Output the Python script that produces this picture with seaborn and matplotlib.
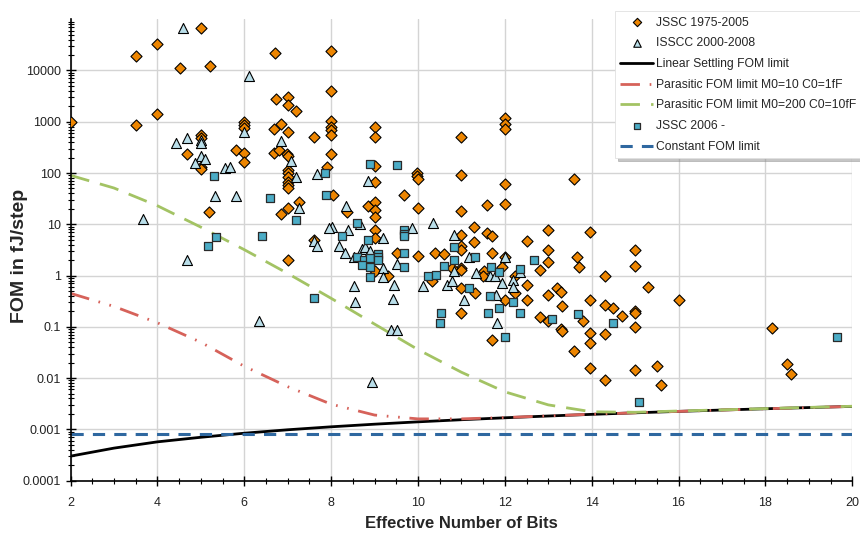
import numpy as np
import pandas as pd
import matplotlib.pyplot as plt
import matplotlib.ticker as mticker
import seaborn as sns

sns.set_theme(style="white")
plt.rcParams['font.family'] = ['Liberation Sans', 'DejaVu Sans']

# JSSC 1975-2005 (diamonds)
jssc_old_enob = [5.0, 4.0, 3.51, 4.52, 5.21, 6.7, 8.0, 8.0, 6.74, 7.0, 7.0, 7.19, 2.0, 3.51, 4.0,
                 6.0, 6.0, 6.0, 6.85, 6.69, 7.0, 7.61, 8.0, 8.0, 8.0, 8.0, 5.0, 5.0, 5.81, 6.0,
                 4.69, 5.0, 5.0, 6.0, 6.69, 6.8, 6.98, 7.0, 7.0, 7.0, 7.0, 7.0, 7.0, 7.0,
                 7.9, 8.0, 9.0, 9.0, 9.02, 9.98, 9.98, 10.0, 11.0, 11.0, 12.0, 12.0, 12.0, 13.6,
                 9.02, 12.0, 8.04, 9.67, 8.36, 8.86, 9.02, 9.02, 9.02, 10.0, 11.6, 12.0, 11.0,
                 11.3, 13.0, 13.97, 9.02, 9.02, 11.0, 11.6, 11.7, 11.3, 12.5, 13.0, 9.52, 9.02,
                 9.32, 10.0, 10.4, 10.6, 11.0, 11.0, 11.0, 11.0, 10.78, 10.32, 11.0, 11.32, 11.0,
                 11.51, 12.01, 11.7, 11.94, 12.23, 12.23, 12.01, 12.51, 12.51, 12.8, 13.0, 13.0,
                 13.2, 13.3, 13.32, 12.8, 13.0, 13.66, 13.7, 13.95, 13.8, 13.3, 11.5, 5.2, 6.85,
                 7.0, 7.26, 7.0, 7.6, 13.32, 13.97, 13.97, 13.97, 11.7, 13.6, 14.5, 14.7, 15.0,
                 15.0, 14.3, 14.3, 15.0, 15.5, 15.6, 18.16, 18.5, 18.6, 15.0, 15.0, 14.3, 15.3,
                 14.3, 15.0, 16.0]
jssc_old_fom = [66000, 33000, 19000, 11000, 12000, 22000, 24000, 3900, 2800, 3100, 2100, 1600, 1000, 870, 1430,
                1000, 870, 770, 910, 720, 640, 510, 1050, 800, 700, 540, 550, 480, 280, 250,
                235, 134, 120, 167, 245, 275, 235, 210, 115, 100, 85, 68, 58, 50,
                130, 235, 790, 510, 140, 98, 88, 77, 510, 93, 1200, 920, 720, 77,
                66, 62, 37, 37, 17, 23, 27, 19, 14, 21, 24, 25, 18,
                9, 7.7, 7.0, 7.6, 5.4, 6.2, 6.9, 5.8, 4.5, 4.8, 3.2, 2.7, 1.2,
                0.96, 2.4, 2.8, 2.6, 3.7, 3.1, 1.4, 1.3, 1.4, 0.78, 0.57, 0.46, 0.19,
                1.2, 2.3, 2.7, 1.5, 1.0, 0.46, 0.33, 0.65, 0.33, 1.3, 1.8, 0.41,
                0.58, 0.48, 0.26, 0.155, 0.13, 2.35, 1.44, 0.34, 0.13, 0.09, 1.0, 17, 16,
                21, 27, 2.0, 4.9, 0.083, 0.075, 0.048, 0.016, 0.056, 0.034, 0.23, 0.165, 0.2,
                0.1, 0.072, 0.0093, 0.0146, 0.017, 0.0073, 0.095, 0.019, 0.012, 3.2, 1.55, 1.0, 0.6,
                0.27, 0.19, 0.34]

# ISSCC 2000-2008 (triangles)
isscc_enob = [4.6, 6.1, 6.0, 5.0, 5.0, 4.69, 4.42, 6.85, 5.0, 5.1, 4.87, 7.08, 5.56, 5.68, 7.19,
              7.67, 8.85, 8.35, 8.02, 8.67, 10.35, 8.4, 9.2, 9.86, 10.82, 8.19, 8.33, 8.52, 8.71,
              8.79, 9.2, 8.9, 9.52, 9.2, 9.44, 8.52, 8.56, 9.42, 11.17, 10.11, 10.67, 10.78, 10.84,
              11.05, 11.34, 12.01, 11.67, 11.78, 11.94, 12.19, 12.19, 11.8, 11.83, 12.34, 5.33,
              5.81, 7.26, 3.66, 4.68, 7.6, 7.67, 7.96, 6.35, 9.38, 9.52, 8.95]
isscc_fom = [66000, 7800, 620, 450, 390, 480, 390, 425, 215, 185, 160, 170, 125, 134, 85,
             97, 70, 23, 9.0, 10, 10.5, 7.6, 5.4, 8.5, 6.2, 3.8, 2.7, 2.3, 3.3,
             3.6, 1.4, 3.0, 1.7, 0.92, 0.65, 0.62, 0.3, 0.35, 2.3, 0.62, 0.65, 0.78, 1.2,
             0.33, 1.1, 2.25, 0.96, 0.96, 0.72, 0.83, 0.61, 0.42, 0.12, 1.15, 35,
             36, 21, 12.6, 2.0, 4.7, 3.7, 8.5, 0.13, 0.088, 0.088, 0.0082]

# JSSC 2006 - (squares)
jssc_new_enob = [5.3, 7.86, 8.9, 9.52, 7.88, 8.6, 8.26, 8.85, 9.68, 9.68, 9.68, 8.6, 8.75, 8.9,
                 8.9, 8.71, 9.09, 9.09, 9.09, 9.68, 9.68, 8.89, 10.61, 10.84, 10.84, 11.32, 10.24,
                 10.42, 11.18, 10.53, 10.51, 11.68, 11.86, 11.67, 12.18, 11.86, 11.61, 12.34, 12.34,
                 12.68, 13.09, 13.69, 6.6, 7.2, 5.36, 5.17, 6.4, 7.6, 12.01, 14.49, 15.08, 19.65]
jssc_new_fom = [89, 100, 150, 145, 37.5, 10.4, 6.0, 4.9, 7.8, 6.6, 6.0, 2.3, 2.0, 2.2,
                1.5, 1.6, 2.65, 2.3, 2.0, 2.7, 1.44, 0.94, 1.55, 3.6, 2.0, 2.35, 0.96,
                1.04, 0.57, 0.19, 0.12, 1.5, 1.15, 0.4, 0.3, 0.23, 0.19, 0.19, 1.34,
                2.0, 0.14, 0.18, 32, 11.9, 5.6, 3.8, 6.0, 0.36, 0.063, 0.12, 0.0034, 0.062]

# limit curves read at integer ENOB
limit_enob = [2, 3, 4, 5, 6, 7, 8, 9, 10, 11, 12, 13, 14, 15, 16, 17, 18, 19, 20]
linear_fom = [0.0003, 0.00043, 0.00057, 0.0007, 0.00084, 0.00098, 0.00112, 0.00126, 0.0014, 0.00154,
              0.00168, 0.00182, 0.00196, 0.0021, 0.00224, 0.00238, 0.00252, 0.00266, 0.0028]
parasitic10_fom = [0.45, 0.25, 0.12, 0.05, 0.017, 0.0068, 0.0031, 0.0019, 0.0016, 0.0016,
                   0.0017, 0.00183, 0.00197, 0.0021, 0.00224, 0.00238, 0.00252, 0.00266, 0.0028]
parasitic200_fom = [90, 51, 23, 8.8, 3.2, 1.1, 0.36, 0.113, 0.036, 0.013,
                    0.0054, 0.003, 0.0022, 0.00215, 0.00228, 0.0024, 0.00254, 0.00268, 0.00282]
const_enob = [2, 20]
const_fom = [0.0008, 0.0008]

fig, ax = plt.subplots(figsize=(8.6, 5.34), dpi=100)
fig.subplots_adjust(left=0.082, right=0.991, bottom=0.1, top=0.964)

# limit lines
sns.lineplot(x=limit_enob, y=linear_fom, color='black', lw=2, ax=ax,
             label='Linear Settling FOM limit', zorder=2)
sns.lineplot(x=limit_enob, y=parasitic10_fom, color='#D6625A', lw=2,
             linestyle=(0, (7, 3.5, 0.6, 3.5, 0.6, 3.5)), ax=ax,
             label='Parasitic FOM limit M0=10 C0=1fF', zorder=2)
sns.lineplot(x=limit_enob, y=parasitic200_fom, color='#A3C364', lw=2,
             linestyle=(0, (7, 4)), ax=ax,
             label='Parasitic FOM limit M0=200 C0=10fF', zorder=2)
sns.lineplot(x=const_enob, y=const_fom, color='#2F68A0', lw=2.2,
             linestyle=(0, (4, 3)), ax=ax, label='Constant FOM limit', zorder=2)

# measured data
sns.scatterplot(x=jssc_old_enob, y=jssc_old_fom, marker='D', s=32, color='#ED8500',
                edgecolor='black', linewidth=0.8, ax=ax, zorder=3, label='JSSC 1975-2005')
sns.scatterplot(x=isscc_enob, y=isscc_fom, marker='^', s=52, color='#B9DEE9',
                edgecolor='black', linewidth=0.8, ax=ax, zorder=3, label='ISSCC 2000-2008')
sns.scatterplot(x=jssc_new_enob, y=jssc_new_fom, marker='s', s=40, color='#4BACC6',
                edgecolor='#2A2A2A', linewidth=0.9, ax=ax, zorder=3, label='JSSC 2006 -')

ax.set_yscale('log')
ax.set_xlim(2, 20)
ax.set_ylim(1e-4, 1e5)
ax.set_xticks(range(2, 21, 2))
ax.set_yticks([1e-4, 1e-3, 1e-2, 1e-1, 1, 10, 100, 1000, 10000],
              labels=['0.0001', '0.001', '0.01', '0.1', '1', '10', '100', '1000', '10000'])
ax.xaxis.set_minor_locator(mticker.MultipleLocator(0.5))
ax.yaxis.set_minor_locator(mticker.LogLocator(base=10, subs=range(2, 10), numticks=30))
ax.yaxis.set_minor_formatter(mticker.NullFormatter())
ax.tick_params(which='both', direction='inout', left=True, bottom=True, colors='black',
               labelcolor='#222222', labelsize=9)
ax.tick_params(which='major', length=7, width=1)
ax.tick_params(which='minor', length=5, width=0.8)
ax.tick_params(axis='x', pad=8)

ax.grid(True, which='major', color='#D4D4D4', lw=1)
ax.set_axisbelow(True)
for side in ['top', 'right']:
    ax.spines[side].set_visible(False)
for side in ['left', 'bottom']:
    ax.spines[side].set_color('black')
    ax.spines[side].set_linewidth(1.2)

ax.set_xlabel('Effective Number of Bits', fontsize=12, fontweight='bold', labelpad=5)
ax.set_ylabel('FOM in fJ/step', fontsize=14, fontweight='bold')
ax.yaxis.set_label_coords(-0.054, 0.487)

order = ['JSSC 1975-2005', 'ISSCC 2000-2008', 'Linear Settling FOM limit',
         'Parasitic FOM limit M0=10 C0=1fF', 'Parasitic FOM limit M0=200 C0=10fF',
         'JSSC 2006 -', 'Constant FOM limit']
h, l = ax.get_legend_handles_labels()
hd = dict(zip(l, h))
ax.get_legend().remove()
leg = fig.legend([hd[k] for k in order], order, loc='upper left',
                 bbox_to_anchor=(0.715, 0.979), frameon=True, fancybox=False,
                 shadow={'color': '0.55', 'alpha': 0.5}, fontsize=8.7, labelspacing=0.72,
                 handlelength=2.7, handletextpad=0.25, markerscale=0.75,
                 borderaxespad=0, borderpad=0.45)
leg.get_frame().set_edgecolor('#E0E0E0')
leg.get_frame().set_linewidth(0.6)

fig.savefig('out.png', dpi=100)
